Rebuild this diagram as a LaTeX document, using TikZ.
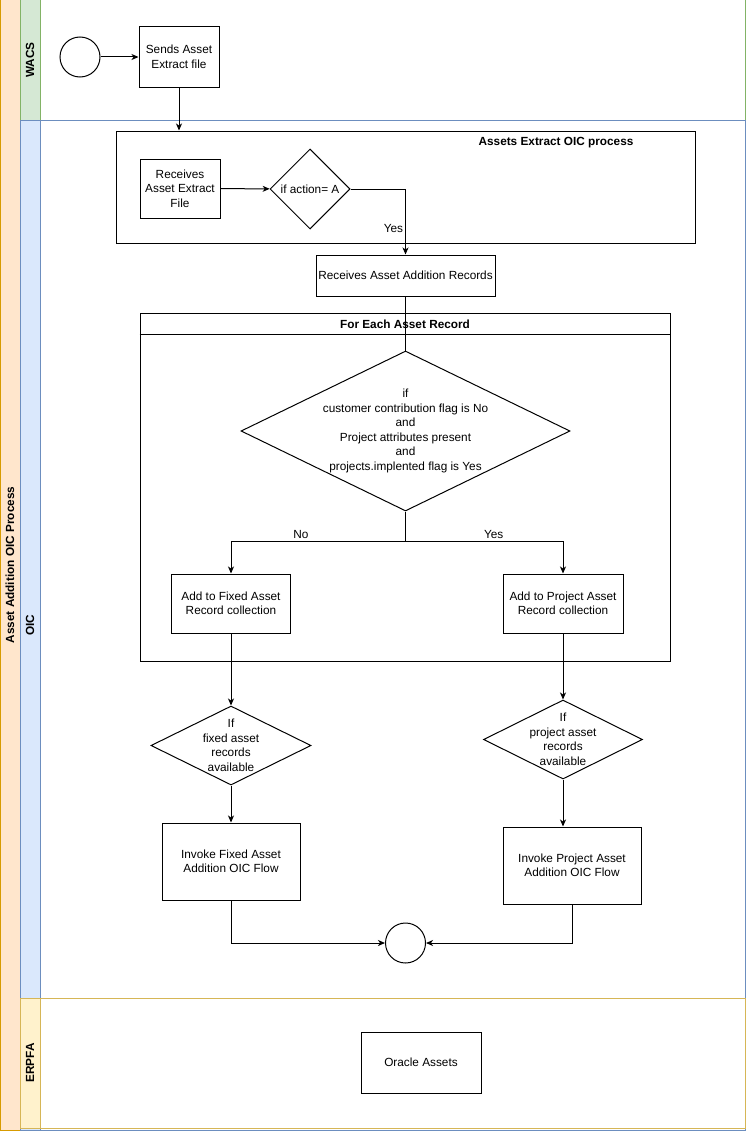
\documentclass[tikz,border=0pt]{standalone}
\usepackage{fontspec}
\setmainfont{Liberation Sans}
\usetikzlibrary{arrows.meta,shapes.geometric}

\definecolor{poolfill}{HTML}{FFE6CC}
\definecolor{pooldraw}{HTML}{D79B00}
\definecolor{wacsfill}{HTML}{D5E8D4}
\definecolor{wacsdraw}{HTML}{82B366}
\definecolor{oicfill}{HTML}{DAE8FC}
\definecolor{oicdraw}{HTML}{6C8EBF}
\definecolor{erpfill}{HTML}{FFF2CC}
\definecolor{erpdraw}{HTML}{D6B656}

\newcommand{\txt}{\fontsize{11.8}{14.5}\selectfont}

\begin{document}
\begin{tikzpicture}[x=1pt,y=-1pt,line width=1pt,
    box/.style={draw,fill=white,align=center,font=\txt,inner sep=2pt},
    decision/.style={draw,fill=white,diamond,inner sep=0pt,align=center,font=\txt},
    condtext/.style={align=center,font=\txt},
    lanelabel/.style={rotate=90,font=\txt\bfseries},
    edgelabel/.style={font=\txt,inner sep=2pt},
    flow/.style={-{Stealth[length=7pt,width=6pt,inset=2pt]}}]
      \useasboundingbox (0,0) rectangle (755,1140);

      %%%%%%%%%%%%%%%%%%%%%%%%%%%%%%%%%%%%%%%%%%%%%%%%%%%%%%%%%%%%%%%%%%%%%%%%%%%
      %%%%  Pool and lanes
      \draw[pooldraw] (0,0) rectangle (745,1130);
      \draw[pooldraw,fill=poolfill] (0,0) rectangle (20,1130);
      \node[lanelabel] (pool) at (10,565) {Asset Addition OIC Process};

      \foreach \top/\bot/\fc/\dc/\name in
        {0/120/wacsfill/wacsdraw/WACS,
         120/1130/oicfill/oicdraw/OIC,
         998/1128/erpfill/erpdraw/ERPFA}
       {\draw[\dc,fill=white] (20,\top) rectangle (745,\bot);
        \draw[\dc,fill=\fc] (20,\top) rectangle (40,\bot);
        \node[lanelabel] at (30,{(\top+\bot)/2}) {\name};
       };

      %%%%%%%%%%%%%%%%%%%%%%%%%%%%%%%%%%%%%%%%%%%%%%%%%%%%%%%%%%%%%%%%%%%%%%%%%%%
      %%%%  WACS
      \node[draw,circle,minimum size=40pt,inner sep=0pt] (start) at (80,57) {};
      \node[box,minimum width=80pt,minimum height=60pt] (sends) at (179,57)
        {Sends Asset\\Extract file};

      %%%%%%%%%%%%%%%%%%%%%%%%%%%%%%%%%%%%%%%%%%%%%%%%%%%%%%%%%%%%%%%%%%%%%%%%%%%
      %%%%  OIC
      \node[draw,minimum width=579pt,minimum height=112pt] (extract) at (405.5,187) {};
      \node[font=\txt\bfseries] (extracttitle) at (556,143) {Assets Extract OIC process};
      \node[box,minimum width=80pt,minimum height=59pt] (recv) at (180,188.5)
        {Receives\\Asset Extract\\File};
      \node[decision,minimum width=80pt,minimum height=80pt] (action) at (310,189) {if action= A};
      \node[box,minimum width=179pt,minimum height=41pt] (records) at (405.5,275.5)
        {Receives Asset Addition Records};

      \node[draw,minimum width=530pt,minimum height=348pt] (foreach) at (405,487) {};
      \draw (foreach.north west) ++(0,22) -- ++(530,0);
      \node[font=\txt\bfseries] (foreachtitle) at (405,324) {For Each Asset Record};

      \node[decision,minimum width=329pt,minimum height=160pt,
        label={[condtext]center:{if\\customer contribution flag is No\\and\\Project attributes present\\and\\projects.implented flag is Yes}}]
        (cond) at (405.5,431) {};
      \coordinate (split) at (405.5,541);

      \node[box,minimum width=119pt,minimum height=59pt] (fixed) at (231,603.5)
        {Add to Fixed Asset\\Record collection};
      \node[box,minimum width=120pt,minimum height=59pt] (project) at (563,603.5)
        {Add to Project Asset\\Record collection};

      \node[decision,minimum width=160pt,minimum height=79pt,
        label={[condtext]center:{If\\fixed asset\\records\\available}}]
        (fixedq) at (231,745.5) {};
      \node[decision,minimum width=159pt,minimum height=79pt,
        label={[condtext]center:{If\\project asset\\records\\available}}]
        (projq) at (563,739.5) {};

      \node[box,minimum width=138pt,minimum height=77pt] (invfix) at (231,861.5)
        {Invoke Fixed Asset\\Addition OIC Flow};
      \node[box,minimum width=138pt,minimum height=77pt] (invproj) at (572,865.5)
        {Invoke Project Asset\\Addition OIC Flow};

      \node[draw,circle,minimum size=40pt,inner sep=0pt] (finish) at (405.5,943) {};

      %%%%%%%%%%%%%%%%%%%%%%%%%%%%%%%%%%%%%%%%%%%%%%%%%%%%%%%%%%%%%%%%%%%%%%%%%%%
      %%%%  ERPFA
      \node[box,minimum width=120pt,minimum height=61pt] (oracle) at (421,1062.5) {Oracle Assets};

      %%%%%%%%%%%%%%%%%%%%%%%%%%%%%%%%%%%%%%%%%%%%%%%%%%%%%%%%%%%%%%%%%%%%%%%%%%%
      %%%%  Connectors
      \draw[flow] (start) -- (sends);
      \draw[flow] (sends.south) -- (sends.south |- extract.north);
      \draw[flow] (recv) -- (action);
      \draw[flow] (action.east) -| node[edgelabel,pos=0.8,left] {Yes} (records.north);
      \draw (records.south) -- (cond.north);
      \draw (cond.south) -- (split);
      \draw[flow] (split) -| node[edgelabel,pos=0.3,above] {No} (fixed.north);
      \draw[flow] (split) -| node[edgelabel,pos=0.28,above] {Yes} (project.north);
      \draw[flow] (fixed) -- (fixedq);
      \draw[flow] (project) -- (projq);
      \draw[flow] (fixedq) -- (invfix);
      \draw[flow] (projq.south) -- (projq.south |- invproj.north);
      \draw[flow] (invfix.south) |- (finish.west);
      \draw[flow] (invproj.south) |- (finish.east);
    \end{tikzpicture}
\end{document}
